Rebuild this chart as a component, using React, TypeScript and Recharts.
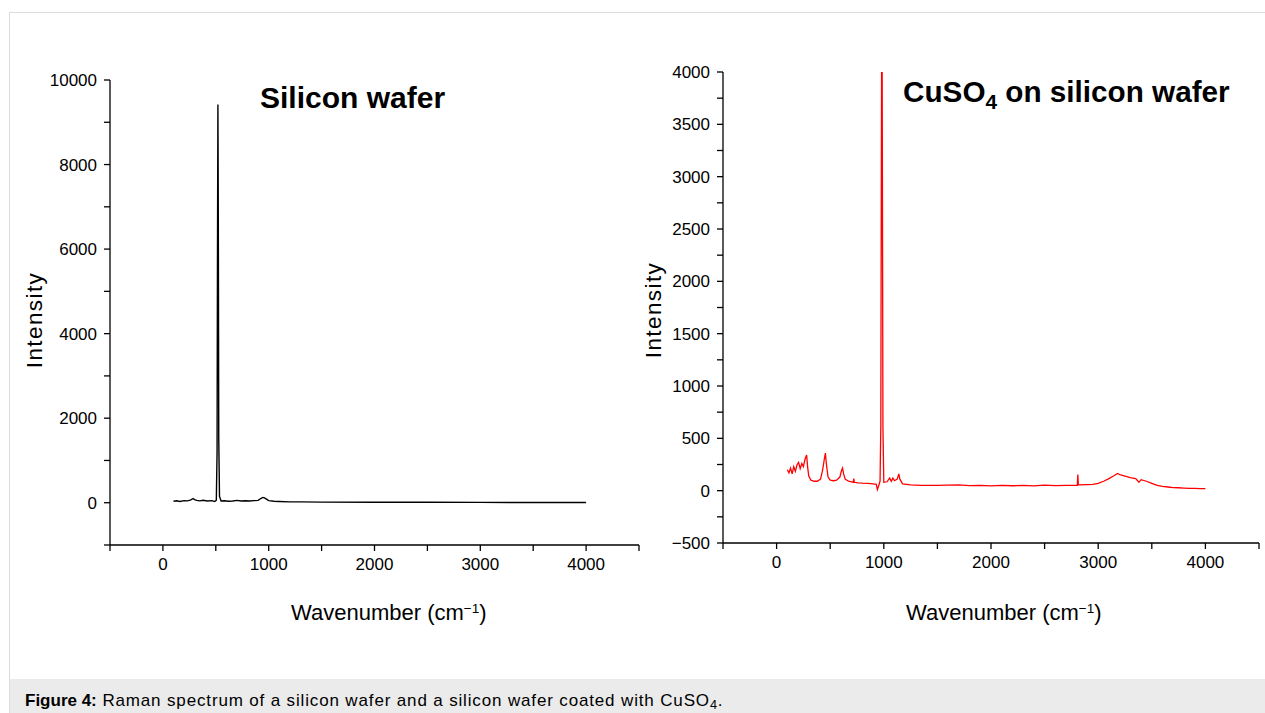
import { LineChart, Line, XAxis, YAxis } from 'recharts';

// Silicon wafer spectrum
const siWavenumber = [100, 130, 160, 200, 230, 260, 285, 300, 320, 350, 380, 420, 460, 490, 505, 512, 516, 520, 524, 528, 535, 550, 580, 620, 660, 700, 740, 780, 820, 860, 900, 925, 945, 960, 975, 1000, 1050, 1100, 1200, 1300, 1500, 2000, 2500, 3000, 3500, 4000];
const siIntensity = [35, 45, 30, 50, 45, 60, 100, 75, 55, 45, 60, 40, 50, 30, 60, 1200, 6000, 9420, 6500, 1500, 150, 40, 45, 35, 40, 55, 40, 45, 40, 50, 55, 100, 125, 115, 90, 50, 35, 30, 20, 20, 15, 12, 10, 8, 6, 5];

// CuSO4 on silicon wafer spectrum
const cuWavenumber = [100, 115, 130, 145, 160, 175, 190, 205, 220, 235, 250, 265, 280, 290, 300, 320, 350, 380, 410, 430, 445, 455, 465, 480, 500, 530, 560, 590, 605, 615, 625, 640, 670, 700, 715, 720, 725, 760, 800, 850, 900, 930, 940, 950, 965, 972, 977, 982, 987, 992, 1000, 1030, 1055, 1070, 1085, 1100, 1125, 1140, 1150, 1175, 1250, 1350, 1500, 1600, 1700, 1800, 1900, 2000, 2100, 2200, 2300, 2400, 2500, 2600, 2700, 2805, 2810, 2815, 2900, 2950, 3000, 3050, 3100, 3150, 3180, 3210, 3250, 3300, 3350, 3380, 3400, 3450, 3500, 3550, 3600, 3650, 3700, 3750, 3800, 3850, 3900, 3950, 4000];
const cuIntensity = [200, 170, 215, 160, 230, 185, 245, 270, 210, 260, 230, 300, 340, 220, 140, 100, 90, 90, 110, 200, 300, 360, 250, 130, 100, 95, 100, 130, 190, 215, 160, 110, 90, 85, 80, 115, 80, 75, 72, 70, 65, 60, 10, 40, 90, 600, 3000, 5200, 3000, 600, 80, 85, 120, 90, 120, 95, 110, 160, 110, 65, 55, 50, 50, 52, 55, 48, 50, 45, 50, 47, 50, 45, 52, 48, 50, 50, 155, 55, 58, 60, 70, 90, 115, 145, 165, 150, 140, 125, 115, 80, 105, 90, 70, 50, 40, 35, 30, 28, 25, 22, 22, 20, 20];

const xTicks = [-500, 0, 500, 1000, 1500, 2000, 2500, 3000, 3500, 4000, 4500];
const xLabels = [0, 1000, 2000, 3000, 4000];
const siYTicks = [-1000, 0, 1000, 2000, 3000, 4000, 5000, 6000, 7000, 8000, 9000, 10000];
const siYLabels = [0, 2000, 4000, 6000, 8000, 10000];
const cuYTicks = [-500, -250, 0, 250, 500, 750, 1000, 1250, 1500, 1750, 2000, 2250, 2500, 2750, 3000, 3250, 3500, 3750, 4000];
const cuYLabels = [-500, 0, 500, 1000, 1500, 2000, 2500, 3000, 3500, 4000];

const siData = siWavenumber.map((x, i) => ({ x, y: siIntensity[i] }));
const cuData = cuWavenumber.map((x, i) => ({ x, y: cuIntensity[i] }));

const FONT = '"Liberation Sans", Arial, Helvetica, sans-serif';
const tickStyle = { fontSize: 17, fill: '#000', fontFamily: FONT };
const axisLine = { stroke: '#000', strokeWidth: 1.3 };

const fmt = (labels: number[]) => (v: number) =>
  labels.includes(v) ? (v < 0 ? '\u2212' + Math.abs(v) : String(v)) : '';

function XLabel({ left }: { left: number }) {
  return (
    <div style={{ position: 'absolute', left, top: 600, fontSize: 22, lineHeight: '26px', whiteSpace: 'nowrap' }}>
      Wavenumber (cm<sup style={{ fontSize: '0.62em', verticalAlign: '0.55em', lineHeight: 0 }}>{'\u2212'}1</sup>)
    </div>
  );
}

function YLabel({ cx, cy }: { cx: number; cy: number }) {
  return (
    <div
      style={{
        position: 'absolute',
        left: cx - 60,
        top: cy - 13,
        width: 120,
        textAlign: 'center',
        fontSize: 22.5,
        letterSpacing: 1.4,
        lineHeight: '26px',
        transform: 'rotate(-90deg)',
      }}
    >
      Intensity
    </div>
  );
}

export default function App() {
  return (
    <div
      style={{
        position: 'absolute',
        left: 0,
        top: 0,
        width: 1265,
        height: 713,
        background: '#fff',
        overflow: 'hidden',
        fontFamily: FONT,
        color: '#000',
      }}
    >
      <div
        style={{
          position: 'absolute',
          left: 9,
          top: 12,
          width: 1270,
          height: 720,
          borderLeft: '1px solid #dcdcdc',
          borderTop: '1px solid #dcdcdc',
        }}
      />
      <div style={{ position: 'absolute', left: 10, top: 679, width: 1260, height: 40, background: '#ebebeb' }} />
      <div style={{ position: 'absolute', left: 25, top: 691, fontSize: 17, lineHeight: '20px', whiteSpace: 'nowrap' }}>
        <b>Figure 4:</b>
        <span style={{ letterSpacing: 0.85 }}>
          {' '}Raman spectrum of a silicon wafer and a silicon wafer coated with CuSO
          <span style={{ fontSize: '0.75em', verticalAlign: '-0.2em', lineHeight: 0 }}>4</span>.
        </span>
      </div>

      <div style={{ position: 'absolute', left: 0, top: 0 }}>
        <LineChart width={650} height={650} data={siData} margin={{ top: 80, right: 11, bottom: 75, left: 50 }}>
          <XAxis
            dataKey="x"
            type="number"
            domain={[-500, 4500]}
            allowDataOverflow
            ticks={xTicks}
            interval={0}
            tickFormatter={fmt(xLabels)}
            tick={tickStyle}
            tickSize={6}
            tickMargin={7}
            height={30}
            axisLine={axisLine}
            tickLine={axisLine}
          />
          <YAxis
            type="number"
            domain={[-1000, 10000]}
            allowDataOverflow
            ticks={siYTicks}
            interval={0}
            tickFormatter={fmt(siYLabels)}
            tick={tickStyle}
            tickSize={6}
            tickMargin={7}
            width={60}
            axisLine={axisLine}
            tickLine={axisLine}
          />
          <Line dataKey="y" stroke="#000" strokeWidth={1.4} dot={false} isAnimationActive={false} />
        </LineChart>
      </div>

      <div style={{ position: 'absolute', left: 620, top: 0 }}>
        <LineChart width={645} height={650} data={cuData} margin={{ top: 72, right: 6, bottom: 77, left: 43 }}>
          <XAxis
            dataKey="x"
            type="number"
            domain={[-500, 4500]}
            allowDataOverflow
            ticks={xTicks}
            interval={0}
            tickFormatter={fmt(xLabels)}
            tick={tickStyle}
            tickSize={6}
            tickMargin={7}
            height={30}
            axisLine={axisLine}
            tickLine={axisLine}
          />
          <YAxis
            type="number"
            domain={[-500, 4000]}
            allowDataOverflow
            ticks={cuYTicks}
            interval={0}
            tickFormatter={fmt(cuYLabels)}
            tick={tickStyle}
            tickSize={6}
            tickMargin={7}
            width={60}
            axisLine={axisLine}
            tickLine={axisLine}
          />
          <Line dataKey="y" stroke="#ff0000" strokeWidth={1.3} dot={false} isAnimationActive={false} />
        </LineChart>
      </div>

      <div style={{ position: 'absolute', left: 260, top: 83, fontSize: 30, fontWeight: 'bold', lineHeight: '30px', whiteSpace: 'nowrap' }}>
        Silicon wafer
      </div>
      <div style={{ position: 'absolute', left: 903, top: 77, fontSize: 29.7, fontWeight: 'bold', lineHeight: '30px', whiteSpace: 'nowrap' }}>
        CuSO<sub style={{ fontSize: '0.7em', lineHeight: 0 }}>4</sub> on silicon wafer
      </div>

      <XLabel left={291} />
      <XLabel left={906} />
      <YLabel cx={35} cy={320} />
      <YLabel cx={654} cy={310} />
    </div>
  );
}
